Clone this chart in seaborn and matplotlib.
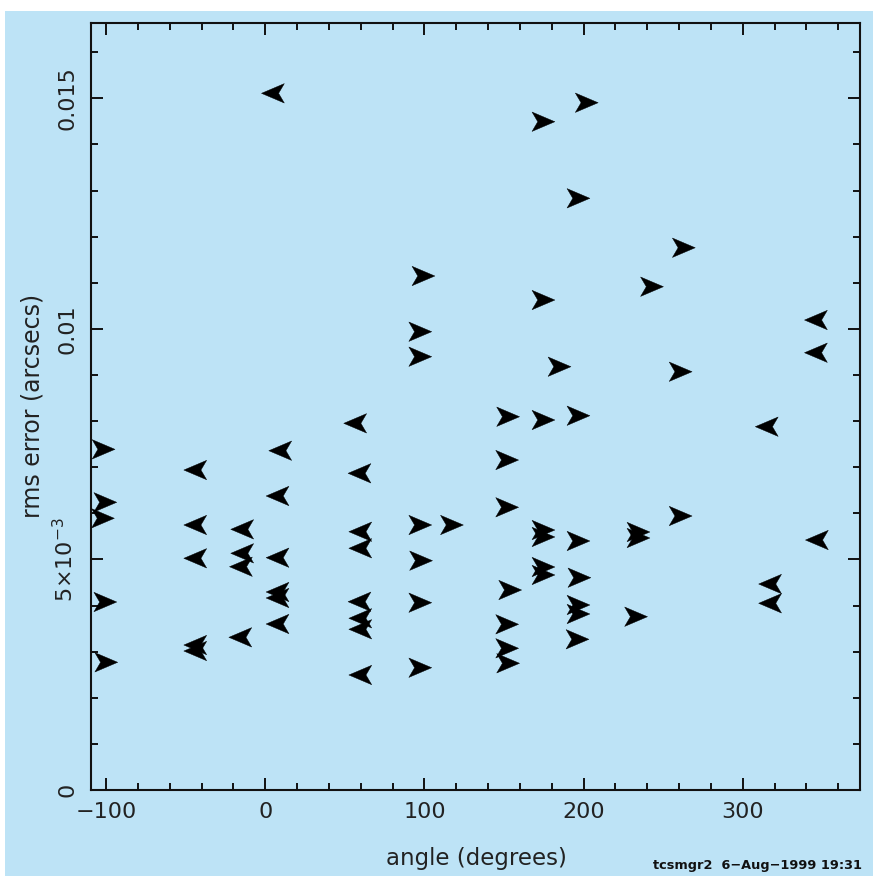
import matplotlib
matplotlib.use("Agg")
import matplotlib.pyplot as plt
from matplotlib.path import Path
from matplotlib.patches import Rectangle
from matplotlib.ticker import MultipleLocator, FixedLocator, FixedFormatter
import pandas as pd
import seaborn as sns

# ---- data ----
right_angle = [-101.6, -100.5, -102.0, -100.5, -99.9,
               99.4, 97.4, 97.4, 97.4, 97.9, 97.4, 97.4,
               117.3,
               152.6, 152.0, 152.0, 153.9, 152.0, 152.0, 152.6,
               174.8, 174.8, 174.8, 174.8, 174.8, 174.8, 174.8,
               202.0, 196.8, 196.8, 196.8, 197.4, 196.8, 196.8, 196.2,
               184.9,
               234.5, 234.5, 233.0,
               243.0, 263.0, 261.0, 261.0]
right_rms_milli = [7.388, 6.239, 5.892, 4.077, 2.769,
                   11.147, 9.939, 9.397, 5.747, 4.973, 4.062, 2.652,
                   5.747,
                   8.095, 7.156, 6.131, 4.337, 3.593, 3.073, 2.748,
                   14.493, 10.626, 8.024, 5.638, 5.487, 4.836, 4.663,
                   14.905, 12.832, 8.117, 5.400, 4.604, 4.012, 3.817, 3.268,
                   9.180,
                   5.595, 5.465, 3.758,
                   10.915, 11.760, 9.071, 5.942]

left_angle = [4.8,
              -44.0, -44.0, -44.0, -44.0, -44.0,
              -14.5, -14.5, -15.3, -15.7,
              9.4, 7.7, 7.7, 7.7, 7.7, 7.7,
              56.5, 59.2, 59.7, 59.7, 59.2, 59.7, 59.7, 59.7,
              315.1, 317.2, 317.2,
              346.0, 346.0, 346.6]
left_rms_milli = [15.109,
                  6.939, 5.747, 5.025, 3.144, 3.014,
                  5.653, 5.133, 4.842, 3.311,
                  7.358, 6.376, 5.038, 4.294, 4.164, 3.600,
                  7.952, 6.868, 5.601, 5.242, 4.083, 3.724, 3.485, 2.494,
                  7.879, 4.467, 4.049,
                  10.192, 9.483, 5.421]

x_ticks = [-100, 0, 100, 200, 300]
x_tick_labels = ["\u2212100", "0", "100", "200", "300"]
y_ticks = [0.0, 0.005, 0.01, 0.015]
y_tick_labels = ["0", r"$5{\times}10^{-3}$", "0.01", "0.015"]

x_label = "angle (degrees)"
y_label = "rms error (arcsecs)"
footer = "tcsmgr2  6\u2212Aug\u22121999 19:31"

df = pd.DataFrame({
    "angle": right_angle + left_angle,
    "rms": [v * 1e-3 for v in right_rms_milli + left_rms_milli],
    "dir": ["right"] * len(right_angle) + ["left"] * len(left_angle),
})

# ---- arrowhead markers ----
codes = [Path.MOVETO, Path.LINETO, Path.LINETO, Path.LINETO, Path.CLOSEPOLY]
r_verts = [(1.0, 0.0), (-1.0, 0.85), (-0.5, 0.0), (-1.0, -0.85), (1.0, 0.0)]
l_verts = [(-x, y) for x, y in r_verts]
arrow_right = Path(r_verts, codes)
arrow_left = Path(l_verts, codes)

# ---- style ----
BLUE = "#bde3f6"
INK = "#111111"
sns.set_theme(style="ticks")
plt.rcParams["font.family"] = ["DejaVu Sans"]
plt.rcParams["mathtext.fontset"] = "dejavusans"

W, H = 873, 876
fig = plt.figure(figsize=(W / 100, H / 100), dpi=100, facecolor="white")
fig.patches.append(Rectangle((5 / W, 0), 1, (H - 11) / H, transform=fig.transFigure,
                             facecolor=BLUE, edgecolor="none", zorder=-10))

left, right, top, bottom = 91, 860, 23, 790
ax = fig.add_axes([left / W, (H - bottom) / H, (right - left) / W, (bottom - top) / H])
ax.set_facecolor(BLUE)

sns.scatterplot(data=df, x="angle", y="rms", style="dir",
                markers={"right": arrow_right, "left": arrow_left},
                color="black", s=270, linewidth=0.3, edgecolor="black",
                legend=False, ax=ax, zorder=3)

ax.set_xlim(-109.5, 373.7)
ax.set_ylim(0, 0.016634)

ax.xaxis.set_major_locator(FixedLocator(x_ticks))
ax.xaxis.set_major_formatter(FixedFormatter(x_tick_labels))
ax.xaxis.set_minor_locator(MultipleLocator(20))
ax.yaxis.set_major_locator(FixedLocator(y_ticks))
ax.yaxis.set_major_formatter(FixedFormatter(y_tick_labels))
ax.yaxis.set_minor_locator(MultipleLocator(0.001))

for sp in ax.spines.values():
    sp.set_visible(True)
    sp.set_color(INK)
    sp.set_linewidth(1.5)

ax.tick_params(which="both", direction="in", top=True, right=True,
               color=INK, width=1.4, labelcolor="#222222")
ax.tick_params(which="major", length=8.8)
ax.tick_params(which="minor", length=5.2)
ax.tick_params(axis="x", which="major", labelsize=16, pad=9)
ax.tick_params(axis="y", which="major", labelsize=16, pad=10)
for lab in ax.get_yticklabels():
    lab.set_rotation(90)
    lab.set_va("center")
    lab.set_ha("right")

ax.set_xlabel("")
ax.set_ylabel("")
fig.text(476 / W, 1 - 858 / H, x_label, ha="center", va="center",
         fontsize=16.5, color="#222222")
fig.text(33 / W, 1 - 406 / H, y_label, ha="center", va="center", rotation=90,
         fontsize=17, color="#222222")
fig.text(862 / W, 1 - 866 / H, footer, ha="right", va="center",
         fontsize=9.3, fontweight="bold", color="#111111")

fig.savefig("out.png", dpi=100, facecolor="white")
